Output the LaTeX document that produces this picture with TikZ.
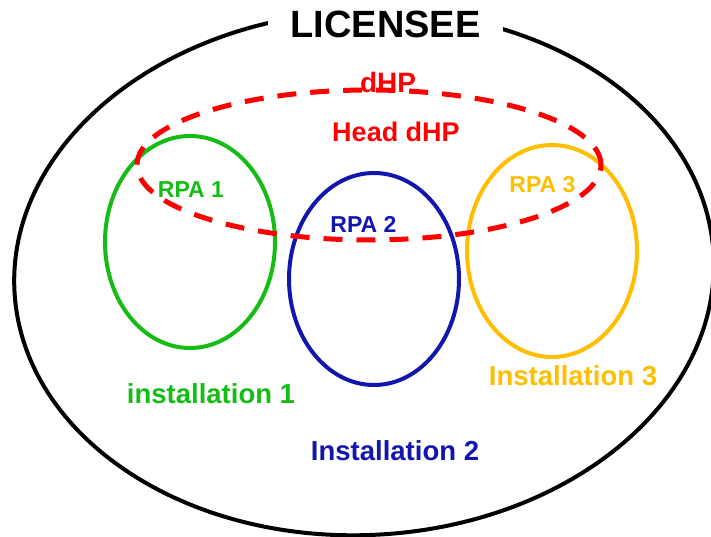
\documentclass[tikz,border=0pt]{standalone}
\usepackage{fontspec}
\setmainfont{Liberation Sans}
\definecolor{instgreen}{RGB}{20,188,20}
\definecolor{instblue}{RGB}{18,22,172}
\definecolor{instorange}{RGB}{255,190,0}
\definecolor{dhpred}{RGB}{255,0,0}

\begin{document}
\begin{tikzpicture}[
  x=1pt,
  y=-1pt,
  ring/.style={
    line width=4pt
  },
  lbl/.style={
    anchor=base,
    inner sep=0pt,
    font=\bfseries\fontsize{#1}{#1}\selectfont
  }
]
\useasboundingbox (0,0) rectangle (711,537);
\draw[ring,rotate around={3:(364,273)}] (364,273) ellipse [x radius=350pt, y radius=262pt];
\node[lbl=38,fill=white,inner xsep=22pt,inner ysep=5pt] (licensee) at (385.5,38) {LICENSEE};
\foreach \cx/\cy/\col in {190/242/instgreen,374/279/instblue,552/251/instorange}
   \draw[ring,\col] (\cx,\cy) ellipse [x radius=85pt, y radius=106pt];
\draw[line width=5pt,dhpred,dash pattern=on 19pt off 14pt] (369,165) ellipse [x radius=232pt, y radius=75pt];
\node[lbl=28,dhpred] (dhp) at (388,93) {dHP};
\node[lbl=27,dhpred] (head) at (396,142) {Head dHP};
\node[lbl=23,instgreen] (rpa1) at (191,197) {RPA 1};
\node[lbl=23,instblue] (rpa2) at (363.5,233) {RPA 2};
\node[lbl=23,instorange] (rpa3) at (542.5,193) {RPA 3};
\node[lbl=27.5,instgreen] (inst1) at (211,403) {installation 1};
\node[lbl=27.5,instblue] (inst2) at (395,460) {Installation 2};
\node[lbl=27.5,instorange] (inst3) at (573,385) {Installation 3};
\end{tikzpicture}
\end{document}
